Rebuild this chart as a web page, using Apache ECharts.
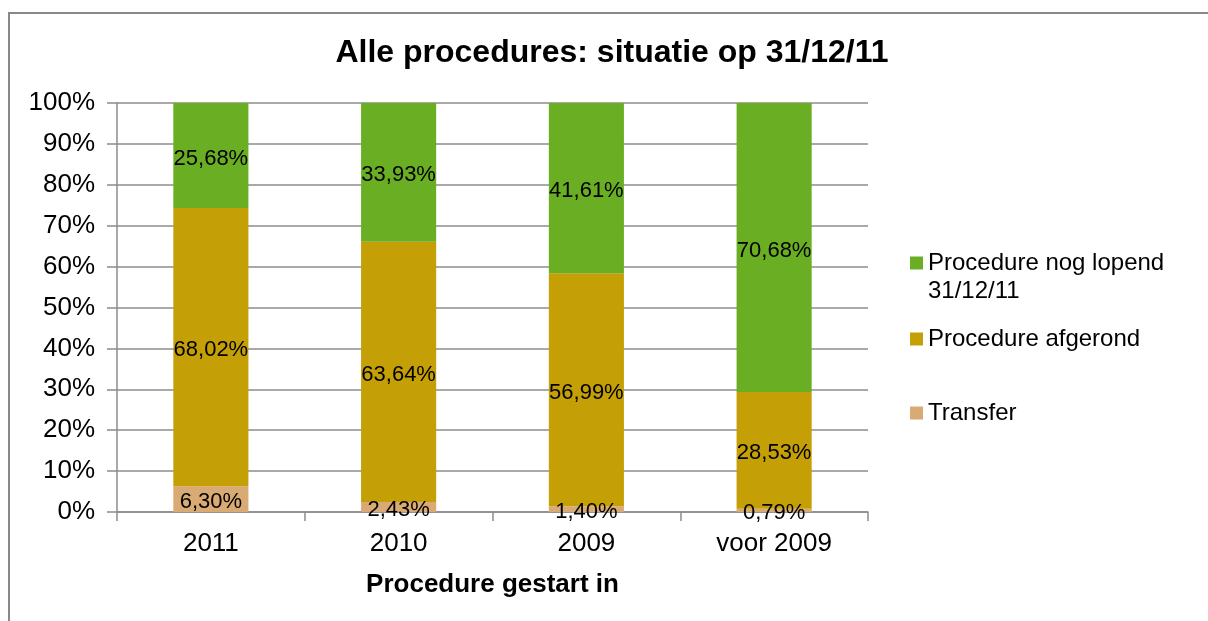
<!DOCTYPE html>
<html>
<head>
<meta charset="utf-8">
<title>Alle procedures</title>
<script src="https://cdn.jsdelivr.net/npm/echarts@6/dist/echarts.min.js"></script>
<style>
    html, body { margin: 0; padding: 0; background: #fff; }
    #chart { width: 1208px; height: 621px; }
</style>
</head>
<body>
<div id="chart"></div>
<script>
// categorieen (startjaar van de procedure)
let years = ["2011", "2010", "2009", "voor 2009"];
// percentages per reeks
let lopend = [25.68, 33.93, 41.61, 70.68];
let afgerond = [68.02, 63.64, 56.99, 28.53];
let transfer = [6.30, 2.43, 1.40, 0.79];
let yTicks = [0, 10, 20, 30, 40, 50, 60, 70, 80, 90, 100];

let seriesNames = ["Procedure nog lopend 31/12/11", "Procedure afgerond", "Transfer"];
let allColors = ["#6AAE23", "#C49F05", "#D9AA74"];
let font = "Liberation Sans, Arial, sans-serif";
let gridColor = "#8c8c8c";

let pct = p => p.value.toFixed(2).replace(".", ",") + "%";

let makeSeries = (name, data, color) => {
    return {
        name: name,
        type: "bar",
        stack: "totaal",
        barWidth: "40%",
        itemStyle: { color: color },
        label: {
            show: true,
            position: "inside",
            offset: [0, 3],
            color: "#000",
            fontFamily: font,
            fontSize: 22,
            formatter: pct
        },
        data: data
    };
};

// losse legenda's zodat de afstanden gelijk zijn aan het origineel
let makeLegend = (name, top, extra) => {
    return Object.assign({
        orient: "vertical",
        left: 910,
        top: top,
        padding: 0,
        icon: "rect",
        itemWidth: 13,
        itemHeight: 13,
        selectedMode: false,
        textStyle: {
            color: "#000",
            fontFamily: font,
            fontSize: 24,
            lineHeight: 28
        },
        data: [name]
    }, extra || {});
};

let option = {
    animation: false,
    color: allColors,
    title: {
        text: "Alle procedures: situatie op 31/12/11",
        left: 612,
        top: 37,
        padding: 0,
        textAlign: "center",
        textStyle: {
            color: "#000",
            fontFamily: font,
            fontSize: 32,
            fontWeight: "bold"
        }
    },
    legend: [
        // lege eerste regel: de eerste tekstregel komt zo naast het blokje
        makeLegend(seriesNames[0], 221, {
            formatter: n => " \n" + n.replace(" 31/12/11", "\n31/12/11")
        }),
        makeLegend(seriesNames[1], 325),
        makeLegend(seriesNames[2], 399)
    ],
    graphic: [
        {
            // kader rond de grafiek
            type: "rect",
            shape: { x: 9, y: 13, width: 1300, height: 700 },
            style: { fill: "none", stroke: "#888", lineWidth: 2 },
            silent: true
        }
    ],
    grid: {
        left: 117,
        right: 340,
        top: 103,
        bottom: 109
    },
    xAxis: {
        type: "category",
        data: years,
        name: "Procedure gestart in",
        nameLocation: "middle",
        nameGap: 60,
        nameTextStyle: {
            color: "#000",
            fontFamily: font,
            fontSize: 26,
            fontWeight: "bold"
        },
        axisLine: { lineStyle: { color: gridColor, width: 1.5 } },
        axisTick: { show: true, length: 9, lineStyle: { color: gridColor, width: 1.5 } },
        axisLabel: {
            color: "#000",
            fontFamily: font,
            fontSize: 26,
            margin: 19
        }
    },
    yAxis: {
        type: "value",
        min: yTicks[0],
        max: yTicks[yTicks.length - 1],
        interval: yTicks[1] - yTicks[0],
        axisLine: { show: true, lineStyle: { color: gridColor, width: 1.5 } },
        axisTick: { show: true, length: 10, lineStyle: { color: gridColor, width: 1.5 } },
        splitLine: { show: true, lineStyle: { color: gridColor, width: 1.5 } },
        axisLabel: {
            color: "#000",
            fontFamily: font,
            fontSize: 26,
            margin: 22,
            formatter: "{value}%"
        }
    },
    series: [
        makeSeries(seriesNames[2], transfer, allColors[2]),
        makeSeries(seriesNames[1], afgerond, allColors[1]),
        makeSeries(seriesNames[0], lopend, allColors[0])
    ]
};

let myChart = echarts.init(document.getElementById("chart"));
myChart.setOption(option);
</script>
</body>
</html>
